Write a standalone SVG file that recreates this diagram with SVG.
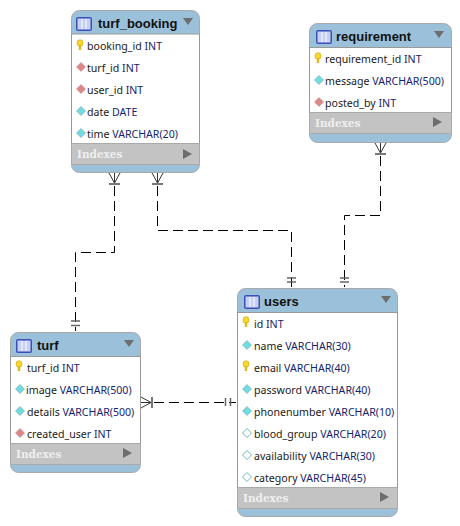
<svg xmlns="http://www.w3.org/2000/svg" width="460" height="526" viewBox="0 0 460 526">
<style>
.card{fill:#9bc1da;stroke:#a9a9a9;stroke-width:1}
.body{fill:#fff}
.edge{fill:none;stroke:#999;stroke-width:1}
.idx{fill:#c3c3c3}
.idxline{stroke:#aaa;stroke-width:1}
.title{font:bold 13px "Liberation Sans",Arial,sans-serif;fill:#111}
.f{font:10.6px "Noto Sans","Liberation Sans",Arial,sans-serif;fill:#1a1a1a}
.f tspan{fill:#14246e}
.ix{font:bold 10.5px "DejaVu Serif",serif;fill:#efefef}
.tri{fill:#6d6d6d}
.conn{fill:none;stroke:#000;stroke-width:1;stroke-dasharray:10 5}
.bar{stroke:#777;stroke-width:2;fill:none}
.crow{stroke:#333;stroke-width:1;fill:none}
.tick{stroke:#666;stroke-width:1.5;fill:none}
</style>
<defs>
<g id="tbl"><rect x="0" y="2" width="16" height="14" rx="2" fill="#3a4fb8"/><rect x="1.500" y="3.500" width="13" height="11" fill="#c6d0f2"/><path d="M6 4v10M10 4v10" stroke="#eef" stroke-width="1.400"/></g>
<g id="key"><ellipse cx="0" cy="-2" rx="3" ry="3.300" fill="#f7d92b" stroke="#c9a010" stroke-width=".6"/><rect x="-1.200" y="0" width="2.400" height="5" fill="#e0b818"/></g>
<polygon id="dc" points="0,-4.500 4.500,0 0,4.500 -4.500,0" fill="#6fdde0" stroke="#8ab" stroke-width=".7"/>
<polygon id="dr" points="0,-4.500 4.500,0 0,4.500 -4.500,0" fill="#e08585" stroke="#b99" stroke-width=".7"/>
<polygon id="dw" points="0,-4.500 4.500,0 0,4.500 -4.500,0" fill="#fff" stroke="#6fb5b8" stroke-width="1"/>
<path id="dn" class="tri" d="M-5 -4h10l-5 7z"/>
<path id="rt" class="tri" d="M-4 -5l9 5l-9 5z"/>
</defs>

<g id="connectors">
<path class="conn" d="M114.500 186V252.500H75.500V331"/>
<path class="conn" d="M157.500 186V230.500H291.500V287"/>
<path class="conn" d="M380.500 156V215.500H344.500V287"/>
<path class="conn" d="M154 402.500H236"/>
<g class="crow"><path d="M109 173L114.500 183L120 173M114.500 173V183"/><path d="M152 173L157.500 183L163 173M157.500 173V183"/><path d="M375 143L380.500 153L386 143M380.500 143V153"/><path d="M141 397L151 402.500L141 408M141 402.500H151"/></g>
<g class="bar"><path d="M109 184H120M152 184H163M375 154H386M152 397V408"/></g>
<g class="tick"><path d="M71 321H80M71 325.500H80M287 278H296M287 282H296M340 278H349M340 282H349M225.500 398V406M230.500 398V406"/></g>
</g>

<g id="turf_booking">
<rect class="card" x="71.500" y="10.500" width="128" height="162" rx="8"/>
<rect class="body" x="72" y="34" width="127" height="109"/><path class="edge" d="M71.500 34V143M199.500 34V143M71.500 34H199.500"/>
<rect class="idx" x="72" y="143" width="127" height="21"/><path class="idxline" d="M72 143.500H199M72 164.500H199"/>
<use href="#tbl" x="76" y="15"/><text class="title" x="98" y="28">turf_booking</text><use href="#dn" x="188" y="22"/>
<use href="#key" x="80" y="45"/><text class="f" x="87" y="50">booking_id <tspan>INT</tspan></text>
<use href="#dr" x="81" y="67"/><text class="f" x="87" y="72">turf_id <tspan>INT</tspan></text>
<use href="#dr" x="81" y="89"/><text class="f" x="87" y="94">user_id <tspan>INT</tspan></text>
<use href="#dc" x="81" y="111"/><text class="f" x="87" y="116">date <tspan>DATE</tspan></text>
<use href="#dc" x="81" y="133"/><text class="f" x="87" y="138">time <tspan>VARCHAR(20)</tspan></text>
<text class="ix" x="77" y="158">Indexes</text><use href="#rt" x="187" y="154"/>
</g>

<g id="requirement">
<rect class="card" x="309.500" y="23.500" width="142" height="119" rx="8"/>
<rect class="body" x="310" y="47" width="141" height="65"/><path class="edge" d="M309.500 47V112M451.500 47V112M309.500 47.500H451.500"/>
<rect class="idx" x="310" y="112" width="141" height="21"/><path class="idxline" d="M310 112.500H451M310 133.500H451"/>
<use href="#tbl" x="316" y="28"/><text class="title" x="336" y="41">requirement</text><use href="#dn" x="439" y="35"/>
<use href="#key" x="318" y="58"/><text class="f" x="325" y="63">requirement_id <tspan>INT</tspan></text>
<use href="#dc" x="319" y="80"/><text class="f" x="325" y="85">message <tspan>VARCHAR(500)</tspan></text>
<use href="#dr" x="319" y="102"/><text class="f" x="325" y="107">posted_by <tspan>INT</tspan></text>
<text class="ix" x="315" y="127">Indexes</text><use href="#rt" x="437" y="122"/>
</g>

<g id="turf">
<rect class="card" x="10.500" y="332.500" width="130" height="140" rx="8"/>
<rect class="body" x="11" y="356" width="129" height="87"/><path class="edge" d="M10.500 356V443M140.500 356V443M10.500 356.500H140.500"/>
<rect class="idx" x="11" y="443" width="129" height="21"/><path class="idxline" d="M11 443.500H140M11 464.500H140"/>
<use href="#tbl" x="16" y="337"/><text class="title" x="37" y="350">turf</text><use href="#dn" x="129" y="344"/>
<use href="#key" x="19" y="366"/><text class="f" x="27" y="372">turf_id <tspan>INT</tspan></text>
<use href="#dc" x="20" y="389"/><text class="f" x="26" y="394">image <tspan>VARCHAR(500)</tspan></text>
<use href="#dc" x="20" y="411"/><text class="f" x="27" y="416">details <tspan>VARCHAR(500)</tspan></text>
<use href="#dr" x="20" y="433"/><text class="f" x="27" y="438">created_user <tspan>INT</tspan></text>
<text class="ix" x="16" y="458">Indexes</text><use href="#rt" x="127" y="453"/>
</g>

<g id="users">
<rect class="card" x="237.500" y="288.500" width="160" height="228" rx="8"/>
<rect class="body" x="238" y="312" width="159" height="175"/><path class="edge" d="M237.500 312V487M397.500 312V487M237.500 312.500H397.500"/>
<rect class="idx" x="238" y="487" width="159" height="21"/><path class="idxline" d="M238 487.500H397M238 508.500H397"/>
<use href="#tbl" x="244" y="293"/><text class="title" x="264" y="306">users</text><use href="#dn" x="386" y="300"/>
<use href="#key" x="246" y="322"/><text class="f" x="254" y="328">id <tspan>INT</tspan></text>
<use href="#dc" x="247" y="345"/><text class="f" x="254" y="350">name <tspan>VARCHAR(30)</tspan></text>
<use href="#key" x="246" y="366"/><text class="f" x="254" y="372">email <tspan>VARCHAR(40)</tspan></text>
<use href="#dc" x="247" y="389"/><text class="f" x="254" y="394">password <tspan>VARCHAR(40)</tspan></text>
<use href="#dc" x="247" y="411"/><text class="f" x="254" y="416">phonenumber <tspan>VARCHAR(10)</tspan></text>
<use href="#dw" x="247" y="433"/><text class="f" x="254" y="438">blood_group <tspan>VARCHAR(20)</tspan></text>
<use href="#dw" x="247" y="455"/><text class="f" x="254" y="460">availability <tspan>VARCHAR(30)</tspan></text>
<use href="#dw" x="247" y="477"/><text class="f" x="254" y="482">category <tspan>VARCHAR(45)</tspan></text>
<text class="ix" x="243" y="502">Indexes</text><use href="#rt" x="384" y="497"/>
</g>
</svg>
